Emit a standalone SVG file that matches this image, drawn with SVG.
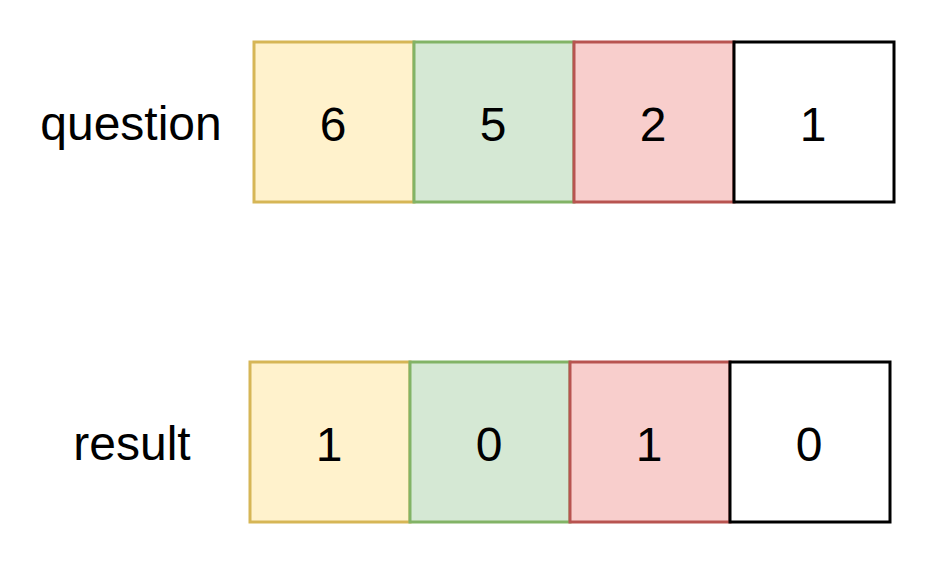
<svg xmlns="http://www.w3.org/2000/svg" width="936" height="564" viewBox="0 0 936 564">
<style>
text{font-family:"Liberation Sans",Arial,sans-serif;font-size:48px;fill:#000;text-anchor:middle}
rect{stroke-width:3}
.y{fill:#fff2cc;stroke:#d6b656}
.g{fill:#d5e8d4;stroke:#82b366}
.r{fill:#f8cecc;stroke:#b85450}
.k{fill:#fff;stroke:#000}
</style>
<rect width="936" height="564" fill="#fff" style="stroke:none"/>
<g id="label-question"><text x="131" y="140">question</text></g>
<g id="q1"><rect class="y" x="254" y="42" width="160" height="160"/><text x="333" y="141">6</text></g>
<g id="q2"><rect class="g" x="414" y="42" width="160" height="160"/><text x="493" y="141">5</text></g>
<g id="q3"><rect class="r" x="574" y="42" width="160" height="160"/><text x="653" y="141">2</text></g>
<g id="q4"><rect class="k" x="734" y="42" width="160" height="160"/><text x="813" y="141">1</text></g>
<g id="label-result"><text x="132" y="460">result</text></g>
<g id="r1"><rect class="y" x="250" y="362" width="160" height="160"/><text x="329" y="461">1</text></g>
<g id="r2"><rect class="g" x="410" y="362" width="160" height="160"/><text x="489" y="461">0</text></g>
<g id="r3"><rect class="r" x="570" y="362" width="160" height="160"/><text x="649" y="461">1</text></g>
<g id="r4"><rect class="k" x="730" y="362" width="160" height="160"/><text x="809" y="461">0</text></g>
<g id="connectors"></g>
</svg>
